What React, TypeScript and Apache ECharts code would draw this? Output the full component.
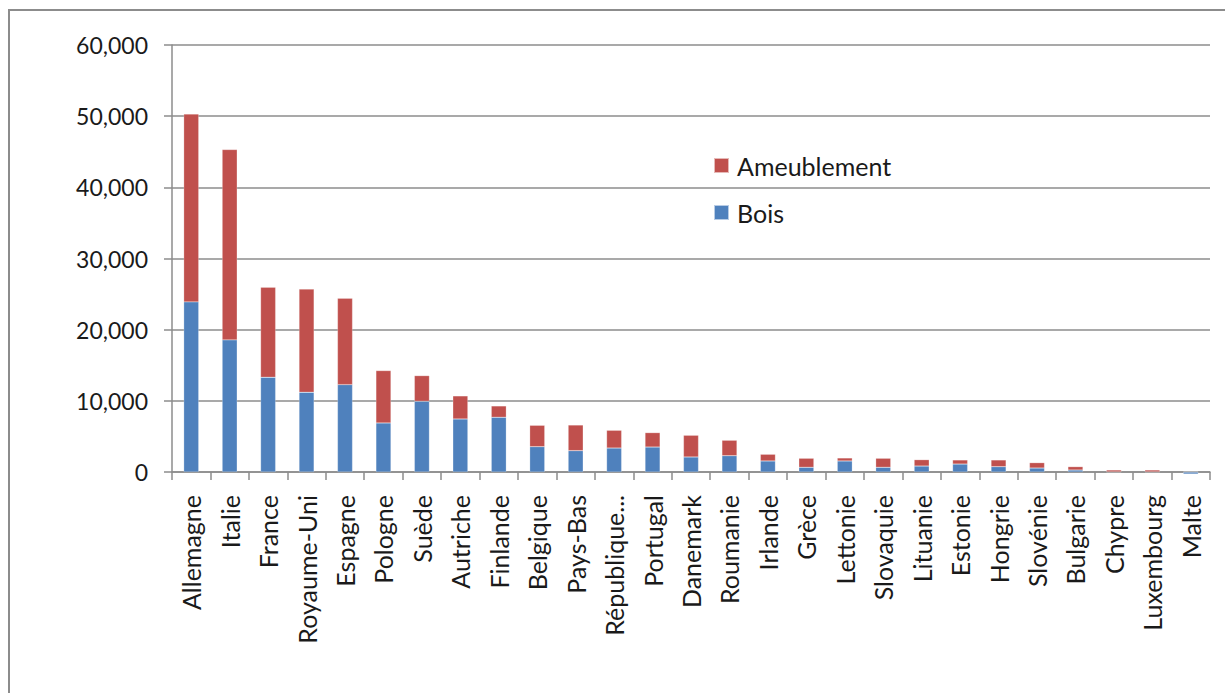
import React, { useEffect, useRef } from "react";
import * as echarts from "echarts";

const categories = [
  "Allemagne", "Italie", "France", "Royaume-Uni", "Espagne", "Pologne", "Suède",
  "Autriche", "Finlande", "Belgique", "Pays-Bas", "République...", "Portugal",
  "Danemark", "Roumanie", "Irlande", "Grèce", "Lettonie", "Slovaquie", "Lituanie",
  "Estonie", "Hongrie", "Slovénie", "Bulgarie", "Chypre", "Luxembourg", "Malte",
];

const bois = [
  23900, 18560, 13310, 11200, 12280, 6890, 9940, 7450, 7690, 3560, 3000, 3370, 3510,
  2110, 2290, 1550, 660, 1550, 660, 840, 1120, 750, 560, 280, 20, 20, -280,
];

const ameublement = [
  26400, 26750, 12660, 14490, 12140, 7360, 3600, 3240, 1590, 3000, 3600, 2490, 2020,
  3050, 2170, 940, 1270, 420, 1270, 890, 570, 940, 750, 470, 260, 260, 20,
];

const yTicks = { min: 0, max: 60000, interval: 10000 };

const FONT = "Lato, 'Liberation Sans', sans-serif";

export default function App() {
  const ref = useRef<HTMLDivElement>(null);

  useEffect(() => {
    if (!ref.current) return;
    const chart = echarts.init(ref.current, null, { renderer: "svg" });
    chart.setOption({
      animation: false,
      backgroundColor: "#ffffff",
      textStyle: { fontFamily: FONT },
      graphic: [
        {
          type: "rect",
          shape: { x: 9, y: 10, width: 1240, height: 720 },
          style: { fill: "none", stroke: "#8c8c8c", lineWidth: 2 },
          silent: true,
        },
      ],
      legend: {
        orient: "vertical",
        left: 713,
        top: 153,
        padding: 0,
        itemWidth: 15,
        itemHeight: 15,
        itemGap: 22,
        icon: "rect",
        data: ["Ameublement", "Bois"],
        textStyle: { fontSize: 25, color: "#1a1a1a", fontFamily: FONT, padding: [0, 0, 0, 3] },
      },
      grid: { left: 172, right: 15, top: 45, bottom: 221 },
      xAxis: {
        type: "category",
        data: categories,
        boundaryGap: true,
        axisLine: { lineStyle: { color: "#8c8c8c", width: 1.5 } },
        axisTick: { show: true, length: 8, alignWithLabel: false, lineStyle: { color: "#8c8c8c", width: 1.5 } },
        axisLabel: {
          rotate: 90,
          interval: 0,
          margin: 23,
          fontSize: 25,
          color: "#1a1a1a",
          fontFamily: FONT,
        },
      },
      yAxis: {
        type: "value",
        min: yTicks.min,
        max: yTicks.max,
        interval: yTicks.interval,
        axisLine: { show: true, lineStyle: { color: "#8c8c8c", width: 1.5 } },
        axisTick: { show: true, length: 8, lineStyle: { color: "#8c8c8c", width: 1.5 } },
        splitLine: { show: true, lineStyle: { color: "#8c8c8c", width: 1.5 } },
        axisLabel: {
          margin: 24,
          fontSize: 23,
          color: "#1a1a1a",
          fontFamily: FONT,
          formatter: (v: number) => v.toLocaleString("en-US"),
        },
      },
      series: [
        {
          name: "Bois",
          type: "bar",
          stack: "total",
          barWidth: 15,
          clip: false,
          data: bois,
          itemStyle: { color: "#4F81BD", borderColor: "rgba(255,255,255,0.6)", borderWidth: 0.4 },
        },
        {
          name: "Ameublement",
          type: "bar",
          stack: "total",
          barWidth: 15,
          clip: false,
          data: ameublement,
          itemStyle: { color: "#C0504D", borderColor: "rgba(255,255,255,0.6)", borderWidth: 0.4 },
        },
      ],
    });
    return () => chart.dispose();
  }, []);

  return (
    <div
      ref={ref}
      style={{ position: "fixed", left: 0, top: 0, width: 1225, height: 693 }}
    />
  );
}
